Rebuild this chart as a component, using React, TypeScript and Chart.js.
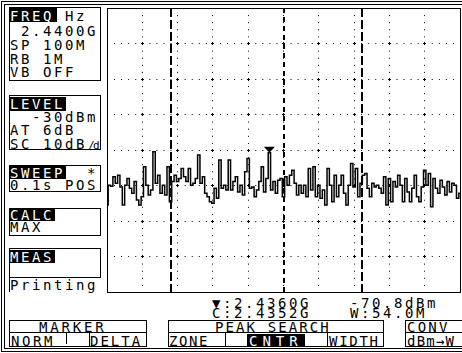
import React, { useEffect, useRef } from "react";
import { Chart, registerables } from "chart.js";

Chart.register(...registerables);

// Sweep settings (x axis: MHz, y axis: dBm)
const START_MHZ = 2390;
const STOP_MHZ = 2490;
const DIV_MHZ = 10;
const REF_DBM = -30;
const BOTTOM_DBM = -110;
const DIV_DB = 10;

// Trace levels in dBm, one per sweep point
const traceDbm = [
  -85.5, -79.9, -80.2, -77.5, -79.4, -77.1, -80.4, -85.5, -79.9, -78.0,
  -80.8, -82.2, -78.9, -84.1, -85.5, -83.2, -74.7, -79.9, -82.7, -81.3,
  -70.5, -79.4, -77.1, -82.2, -79.9, -82.7, -74.7, -84.6, -78.9, -77.1,
  -78.9, -78.0, -75.2, -77.5, -78.9, -75.2, -79.9, -79.4, -78.0, -71.4,
  -79.4, -77.5, -82.2, -83.2, -84.6, -85.0, -80.8, -83.6, -72.8, -80.8,
  -79.9, -81.3, -72.8, -81.3, -78.9, -77.5, -81.8, -79.9, -82.7, -76.1,
  -72.4, -80.8, -80.4, -83.2, -81.3, -78.9, -74.7, -81.8, -78.0, -70.8,
  -81.3, -78.9, -82.2, -78.5, -78.0, -83.2, -77.5, -79.9, -77.1, -75.7,
  -79.4, -82.7, -79.9, -82.2, -79.9, -83.2, -75.2, -81.3, -74.7, -83.2,
  -79.9, -83.6, -81.3, -85.5, -75.2, -79.9, -84.6, -77.1, -83.2, -79.9,
  -77.1, -82.2, -85.5, -79.9, -73.8, -80.4, -75.2, -83.2, -79.4, -77.1,
  -76.6, -80.8, -83.2, -79.4, -80.4, -79.9, -80.8, -82.2, -77.5, -85.5,
  -78.0, -84.6, -78.9, -80.4, -77.1, -79.9, -84.6, -78.0, -81.8, -84.6,
  -80.8, -77.1, -83.2, -84.6, -80.4, -75.7, -79.9, -76.6, -86.0, -78.0,
  -80.8, -82.2, -78.5, -80.4, -82.7, -78.9, -81.8, -79.4, -79.9, -83.6, -82.2,
];

// Peak-search zone edges (C ± W/2) and screen centre, MHz
const zoneEdgesMhz = [2408.2, 2462.2];
const centerLinesMhz = [2440];
// Marker
const markerMhz = 2436.0;
const markerDbm = -70.8;

const FONT = '"DejaVu Sans Mono", "Liberation Mono", monospace';

const scopePlugin = {
  id: "scope",
  beforeDatasetsDraw(chart: any) {
    const { ctx, chartArea: a, scales } = chart;
    const x = scales.x;
    const y = scales.y;
    ctx.save();
    ctx.fillStyle = "#000";
    for (let f = START_MHZ + DIV_MHZ; f < STOP_MHZ; f += DIV_MHZ) {
      for (let d = BOTTOM_DBM + DIV_DB; d < REF_DBM; d += DIV_DB) {
        const px = Math.round(x.getPixelForValue(f) - 0.5);
        const py = Math.round(y.getPixelForValue(d) - 0.5);
        ctx.fillRect(px - 1, py, 3, 1);
        ctx.fillRect(px, py - 1, 1, 3);
      }
    }
    ctx.strokeStyle = "#000";
    ctx.lineWidth = 2;
    ctx.setLineDash([9, 3]);
    for (const f of zoneEdgesMhz) {
      const px = Math.round(x.getPixelForValue(f));
      ctx.beginPath();
      ctx.moveTo(px, a.top);
      ctx.lineTo(px, a.bottom);
      ctx.stroke();
    }
    ctx.setLineDash([5, 4]);
    for (const f of centerLinesMhz) {
      const px = Math.round(x.getPixelForValue(f));
      ctx.beginPath();
      ctx.moveTo(px, a.top);
      ctx.lineTo(px, a.bottom);
      ctx.stroke();
    }
    ctx.restore();
  },
  afterDatasetsDraw(chart: any) {
    const { ctx, chartArea: a, scales } = chart;
    ctx.save();
    ctx.strokeStyle = "#000";
    ctx.lineWidth = 1;
    ctx.setLineDash([]);
    ctx.strokeRect(a.left + 0.5, a.top + 0.5, a.right - a.left, a.bottom - a.top);
    const mx = scales.x.getPixelForValue(markerMhz);
    const my = scales.y.getPixelForValue(markerDbm);
    ctx.fillStyle = "#000";
    ctx.beginPath();
    ctx.moveTo(mx - 5.5, my - 6);
    ctx.lineTo(mx + 5.5, my - 6);
    ctx.lineTo(mx, my);
    ctx.closePath();
    ctx.fill();
    ctx.restore();
  },
};

const Rect = ({ x, y, w, h }: any) => (
  <div
    style={{
      position: "absolute",
      left: x,
      top: y,
      width: w + 1,
      height: h + 1,
      border: "1px solid #000",
      boxSizing: "border-box",
    }}
  />
);
const HL = ({ x1, x2, y }: any) => (
  <div style={{ position: "absolute", left: x1, top: y, width: x2 - x1 + 1, height: 1, background: "#000" }} />
);
const VL = ({ x, y1, y2 }: any) => (
  <div style={{ position: "absolute", left: x, top: y1, width: 1, height: y2 - y1 + 1, background: "#000" }} />
);
const Inv = ({ x, y, w, h }: any) => (
  <div style={{ position: "absolute", left: x, top: y, width: w, height: h, background: "#000" }} />
);
const Txt = ({ x, y, children, color = "#000", ls = 2.57, size = 14 }: any) => (
  <div
    style={{
      position: "absolute",
      left: x,
      top: y - 2,
      fontFamily: FONT,
      fontSize: size,
      lineHeight: "14px",
      letterSpacing: ls,
      whiteSpace: "pre",
      color,
    }}
  >
    {children}
  </div>
);

export default function App() {
  const ref = useRef<HTMLCanvasElement>(null);
  useEffect(() => {
    const n = traceDbm.length;
    const points = traceDbm.map((v, i) => ({
      x: START_MHZ + (i * (STOP_MHZ - START_MHZ)) / (n - 1),
      y: v,
    }));
    const chart = new Chart(ref.current as HTMLCanvasElement, {
      type: "line",
      data: {
        datasets: [
          {
            data: points,
            borderColor: "#000",
            borderWidth: 1.5,
            pointRadius: 0,
            stepped: "middle",
            fill: false,
          } as any,
        ],
      },
      options: {
        animation: false,
        responsive: false,
        devicePixelRatio: 1,
        events: [],
        layout: { padding: 1 },
        plugins: { legend: { display: false }, tooltip: { enabled: false } },
        scales: {
          x: {
            type: "linear",
            min: START_MHZ,
            max: STOP_MHZ,
            ticks: { display: false, stepSize: DIV_MHZ },
            grid: { color: "#000", lineWidth: 1, drawTicks: false, borderDash: [1, 6.1] } as any,
            border: { display: false, dash: [1, 6.1] },
          },
          y: {
            type: "linear",
            min: BOTTOM_DBM,
            max: REF_DBM,
            ticks: { display: false, stepSize: DIV_DB },
            grid: { color: "#000", lineWidth: 1, drawTicks: false, borderDash: [1, 6.06] } as any,
            border: { display: false, dash: [1, 6.06] },
          },
        },
      } as any,
      plugins: [scopePlugin],
    });
    return () => chart.destroy();
  }, []);

  return (
    <div
      style={{
        position: "fixed",
        left: 0,
        top: 0,
        width: 462,
        height: 353,
        background: "#fff",
        overflow: "hidden",
      }}
    >
      {/* outer frame */}
      <Rect x={1} y={1} w={480} h={350} />
      <Rect x={4} y={4} w={480} h={344} />

      {/* left panel boxes */}
      <Rect x={9} y={7} w={91} h={73} />
      <Rect x={9} y={95} w={91} h={54} />
      <Rect x={9} y={165} w={91} h={26} />
      <Rect x={9} y={208} w={91} h={27} />
      <Rect x={9} y={248} w={91} h={29} />
      <VL x={9} y1={277} y2={291} />

      {/* bottom soft-key boxes */}
      <Rect x={9} y={320} w={137} h={26} />
      <HL x1={9} x2={146} y={332} />
      <VL x={66} y1={333} y2={343} />
      <VL x={89} y1={332} y2={346} />
      <Rect x={168} y={320} w={215} h={26} />
      <HL x1={168} x2={383} y={332} />
      <VL x={225} y1={332} y2={346} />
      <VL x={327} y1={332} y2={346} />
      <Rect x={405} y={320} w={80} h={26} />
      <HL x1={405} x2={470} y={332} />

      <canvas
        ref={ref}
        width={355}
        height={286}
        style={{ position: "absolute", left: 106, top: 7, width: 355, height: 286 }}
      />

      {/* inverted headers */}
      <Inv x={10} y={8} w={47} h={14} />
      <Inv x={10} y={97} w={56} h={14} />
      <Inv x={10} y={166} w={56} h={13} />
      <Inv x={10} y={209} w={45} h={12} />
      <Inv x={10} y={250} w={45} h={13} />
      <Inv x={247} y={334} w={58} h={12} />

      {/* left panel texts */}
      <Txt x={10} y={11} color="#fff">FREQ</Txt>
      <Txt x={65} y={11}>Hz</Txt>
      <Txt x={10} y={26}>{" 2.4400G"}</Txt>
      <Txt x={10} y={40}>SP 100M</Txt>
      <Txt x={10} y={54}>RB 1M</Txt>
      <Txt x={10} y={67}>VB OFF</Txt>

      <Txt x={10} y={99} color="#fff">LEVEL</Txt>
      <Txt x={10} y={112}>{"  -30dBm"}</Txt>
      <Txt x={10} y={125}>AT 6dB</Txt>
      <Txt x={10} y={139}>SC 10dB</Txt>
      <Txt x={88} y={141} size={11} ls={-1.5}>/d</Txt>

      <Txt x={10} y={168} color="#fff">SWEEP</Txt>
      <Txt x={87} y={168}>*</Txt>
      <Txt x={10} y={180}>0.1s POS</Txt>

      <Txt x={10} y={210} color="#fff">CALC</Txt>
      <Txt x={10} y={222}>MAX</Txt>

      <Txt x={10} y={252} color="#fff">MEAS</Txt>
      <Txt x={10} y={280}>Printing</Txt>

      {/* marker readouts */}
      <Txt x={212} y={298}>▼:2.4360G</Txt>
      <Txt x={350} y={298}>-70.8dBm</Txt>
      <Txt x={212} y={308}>C:2.4352G</Txt>
      <Txt x={350} y={308}>W:54.0M</Txt>

      {/* soft keys */}
      <Txt x={39} y={322} ls={2.8}>MARKER</Txt>
      <Txt x={11} y={336}>NORM</Txt>
      <Txt x={90} y={336} ls={2.0}>DELTA</Txt>
      <Txt x={215} y={322} ls={2.1}>PEAK SEARCH</Txt>
      <Txt x={169} y={336} ls={1.6}>ZONE</Txt>
      <Txt x={249} y={336} ls={5} color="#fff">CNTR</Txt>
      <Txt x={329} y={336} ls={1.7}>WIDTH</Txt>
      <Txt x={407} y={322} ls={2.2}>CONV</Txt>
      <Txt x={407} y={336} ls={1.2}>dBm→W</Txt>
    </div>
  );
}
